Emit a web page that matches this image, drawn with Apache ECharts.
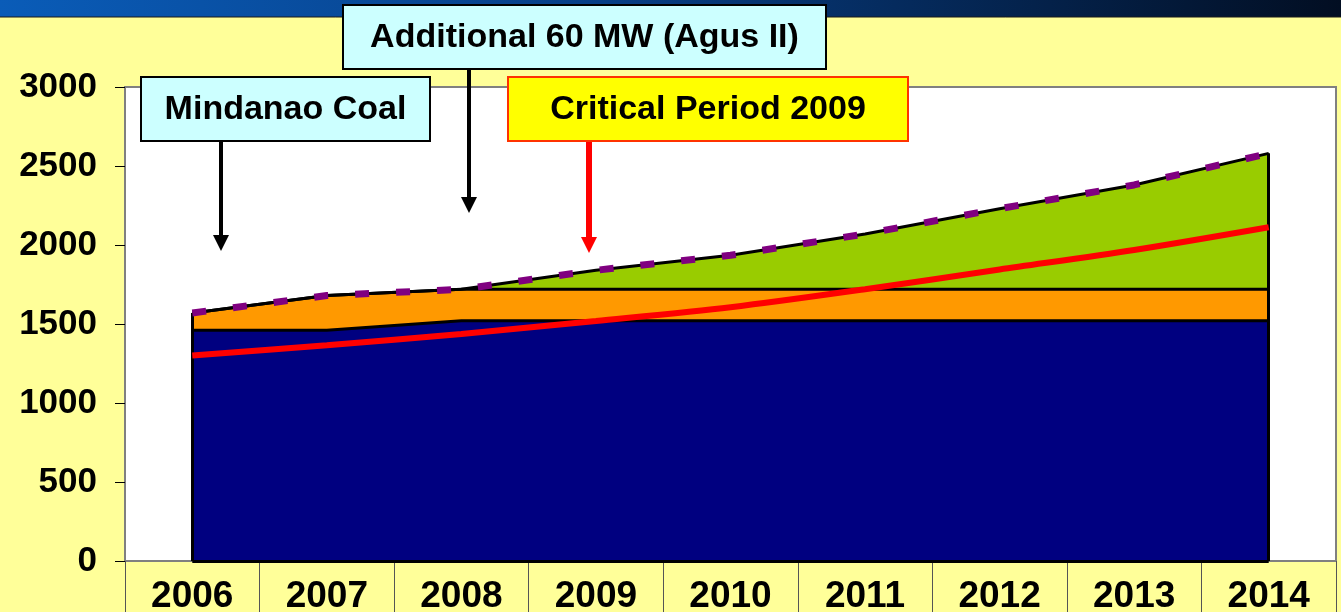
<!DOCTYPE html>
<html>
<head>
<meta charset="utf-8">
<script src="https://cdn.jsdelivr.net/npm/echarts@6/dist/echarts.min.js"></script>
<style>
  html, body { margin: 0; padding: 0; background: #FFFF99; }
  #chart { width: 1341px; height: 612px; }
</style>
</head>
<body>
<div id="chart"></div>
<script>
// data (MW)
const years = ['2006', '2007', '2008', '2009', '2010', '2011', '2012', '2013', '2014'];
const existing = [1460, 1460, 1520, 1520, 1520, 1520, 1520, 1520, 1520];
const coal = [110, 220, 200, 200, 200, 200, 200, 200, 200];
const added = [0, 0, 0, 120, 215, 350, 510, 660, 860];
const demand = [1300, 1365, 1437, 1519, 1606, 1720, 1845, 1968, 2112];
const yTicks = [0, 500, 1000, 1500, 2000, 2500, 3000];

const total = years.map((_, i) => existing[i] + coal[i] + added[i]);

const fontFamily = '"Liberation Sans", Arial, sans-serif';
const font = 'bold 34px ' + fontFamily;

const chart = echarts.init(document.getElementById('chart'));

// annotation box with text
function box(x, y, w, h, text, fill, stroke) {
    return [
        {
            type: 'rect', z: 100,
            shape: { x: x, y: y, width: w, height: h },
            style: { fill: fill, stroke: stroke, lineWidth: 2 }
        },
        {
            type: 'text', z: 101,
            style: {
                text: text, x: x + w / 2, y: y + h / 2 + 1,
                align: 'center', verticalAlign: 'middle',
                font: font, fill: '#000'
            }
        }
    ];
}

// vertical arrow pointing down
function arrow(x, y1, y2, color, w) {
    return [
        {
            type: 'line', z: 100,
            shape: { x1: x, y1: y1, x2: x, y2: y2 - 12 },
            style: { stroke: color, lineWidth: w }
        },
        {
            type: 'polygon', z: 100,
            shape: { points: [[x - 8, y2 - 16], [x + 8, y2 - 16], [x, y2]] },
            style: { fill: color }
        }
    ];
}

const option = {
    animation: false,
    backgroundColor: '#FFFF99',
    grid: {
        left: 125, top: 87, right: 5, bottom: 51,
        outerBoundsMode: 'none',
        show: true, backgroundColor: '#fff',
        borderColor: '#808080', borderWidth: 2
    },
    xAxis: {
        type: 'category',
        data: years,
        boundaryGap: true,
        axisLine: { lineStyle: { color: '#808080', width: 1 } },
        axisTick: { show: true, length: 52, interval: 0, lineStyle: { color: '#555', width: 1 } },
        axisLabel: {
            interval: 0, margin: 17, color: '#000',
            fontFamily: fontFamily, fontWeight: 'bold', fontSize: 37
        }
    },
    yAxis: {
        type: 'value',
        min: yTicks[0], max: yTicks[yTicks.length - 1], interval: 500,
        splitLine: { show: false },
        axisLine: { show: true, lineStyle: { color: '#808080', width: 2 } },
        axisTick: { show: true, length: 10, lineStyle: { color: '#000', width: 1 } },
        axisLabel: {
            margin: 28, color: '#000',
            fontFamily: fontFamily, fontWeight: 'bold', fontSize: 35,
            formatter: v => String(v)
        }
    },
    series: [
        {
            name: 'Existing', type: 'line', stack: 'cap', data: existing,
            symbol: 'none',
            lineStyle: { color: '#000', width: 3 },
            areaStyle: { color: '#000080', opacity: 1 }
        },
        {
            name: 'Mindanao Coal', type: 'line', stack: 'cap', data: coal,
            symbol: 'none',
            lineStyle: { color: '#000', width: 3 },
            areaStyle: { color: '#FF9900', opacity: 1 }
        },
        {
            name: 'Additional', type: 'line', stack: 'cap', data: added,
            symbol: 'none',
            lineStyle: { color: '#000', width: 3 },
            areaStyle: { color: '#99CC00', opacity: 1 },
            markLine: {
                silent: true, symbol: 'none',
                label: { show: false },
                lineStyle: { color: '#000', width: 3, type: 'solid' },
                data: [
                    [{ coord: [0, 0] }, { coord: [0, total[0]] }],
                    [{ coord: [8, 0] }, { coord: [8, total[8]] }],
                    [{ coord: [0, 0] }, { coord: [8, 0] }]
                ]
            }
        },
        {
            name: 'Demand', type: 'line', data: demand, z: 5,
            symbol: 'none', smooth: 0.3,
            lineStyle: { color: '#FF0000', width: 6 }
        },
        {
            name: 'Total', type: 'line', data: total, z: 6,
            symbol: 'none',
            lineStyle: { color: '#800080', width: 7, type: [14, 27], cap: 'butt' }
        }
    ],
    graphic: [
        {
            type: 'rect', z: 50,
            shape: { x: 0, y: 0, width: 1341, height: 17 },
            style: {
                fill: new echarts.graphic.LinearGradient(0, 0, 1, 0, [
                    { offset: 0, color: '#0A5CB8' },
                    { offset: 0.45, color: '#073E85' },
                    { offset: 1, color: '#020E22' }
                ])
            }
        },
        {
            type: 'line', z: 50,
            shape: { x1: 0, y1: 17, x2: 1341, y2: 17 },
            style: { stroke: '#1a1a1a', lineWidth: 1 }
        },
        ...arrow(221, 141, 251, '#000', 4),
        ...arrow(469, 69, 213, '#000', 4),
        ...arrow(589, 141, 253, '#FF0000', 6),
        ...box(141, 77, 289, 64, 'Mindanao Coal', '#CCFFFF', '#000'),
        ...box(343, 5, 483, 64, 'Additional 60 MW (Agus II)', '#CCFFFF', '#000'),
        ...box(508, 77, 400, 64, 'Critical Period 2009', '#FFFF00', '#FF3300')
    ]
};

chart.setOption(option);
</script>
</body>
</html>
